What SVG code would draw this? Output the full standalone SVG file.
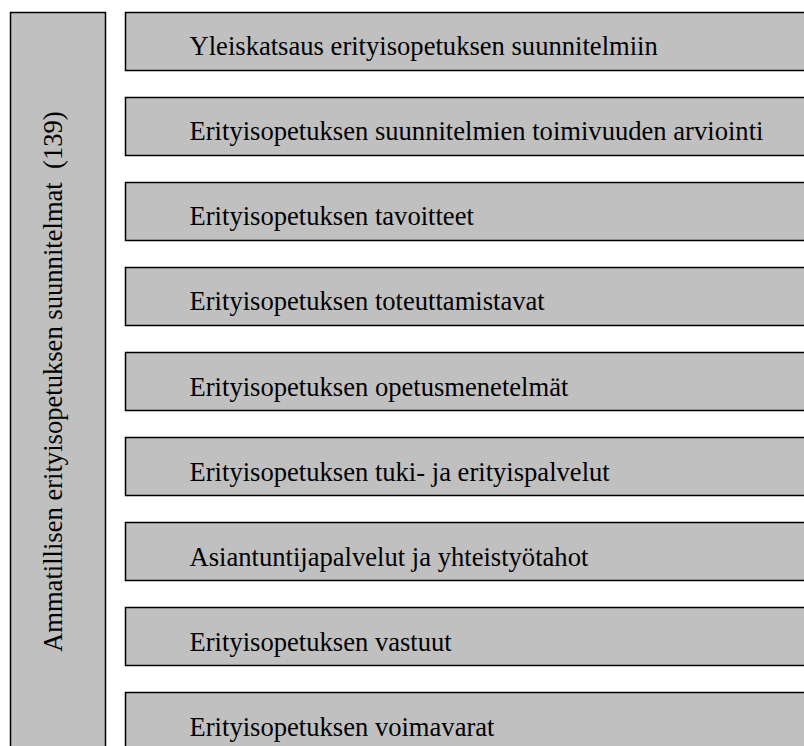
<svg xmlns="http://www.w3.org/2000/svg" width="804" height="746" viewBox="0 0 804 746">
  <style>
    .box { fill: #c0c0c0; stroke: #000; stroke-width: 1.5; }
    .lbl { font-family: "Liberation Serif", "Times New Roman", serif; font-size: 26.6px; fill: #000; }
  </style>
  <rect width="804" height="746" fill="#fff"/>

  <!-- Main category spanning the full height -->
  <g id="root">
    <rect class="box" x="10.5" y="12.5" width="95" height="745"/>
    <text class="lbl" xml:space="preserve" transform="translate(62,652) rotate(-90)">Ammatillisen erityisopetuksen suunnitelmat  (139)</text>
  </g>

  <!-- Sub-topics -->
  <g id="n1">
    <rect class="box" x="125.5" y="12.5" width="700" height="58"/>
    <text class="lbl" x="189.5" y="54.5">Yleiskatsaus erityisopetuksen suunnitelmiin</text>
  </g>
  <g id="n2">
    <rect class="box" x="125.5" y="97.5" width="700" height="58"/>
    <text class="lbl" x="189.5" y="139.5">Erityisopetuksen suunnitelmien toimivuuden arviointi</text>
  </g>
  <g id="n3">
    <rect class="box" x="125.5" y="182.5" width="700" height="58"/>
    <text class="lbl" x="189.5" y="224.5">Erityisopetuksen tavoitteet</text>
  </g>
  <g id="n4">
    <rect class="box" x="125.5" y="267.5" width="700" height="58"/>
    <text class="lbl" x="189.5" y="310">Erityisopetuksen toteuttamistavat</text>
  </g>
  <g id="n5">
    <rect class="box" x="125.5" y="352.5" width="700" height="58"/>
    <text class="lbl" x="189.5" y="395.5">Erityisopetuksen opetusmenetelmät</text>
  </g>
  <g id="n6">
    <rect class="box" x="125.5" y="437.5" width="700" height="58"/>
    <text class="lbl" x="189.5" y="480.5">Erityisopetuksen tuki- ja erityispalvelut</text>
  </g>
  <g id="n7">
    <rect class="box" x="125.5" y="522.5" width="700" height="58"/>
    <text class="lbl" x="189.5" y="565.5">Asiantuntijapalvelut ja yhteistyötahot</text>
  </g>
  <g id="n8">
    <rect class="box" x="125.5" y="607.5" width="700" height="58"/>
    <text class="lbl" x="189.5" y="650.5">Erityisopetuksen vastuut</text>
  </g>
  <g id="n9">
    <rect class="box" x="125.5" y="692.5" width="700" height="58"/>
    <text class="lbl" x="189.5" y="735.5">Erityisopetuksen voimavarat</text>
  </g>

  <g id="connectors"/>
</svg>
